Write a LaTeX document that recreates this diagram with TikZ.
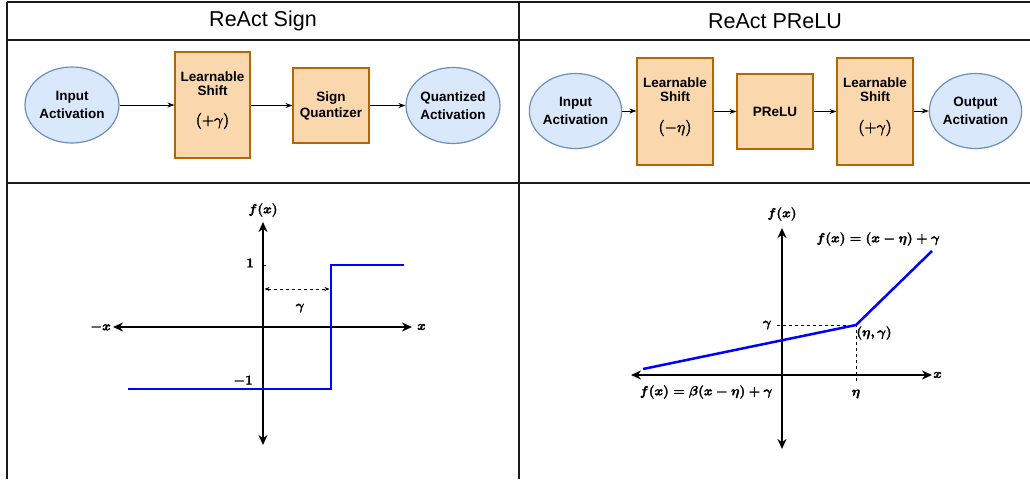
\documentclass[tikz,border=0pt]{standalone}
\usepackage{fix-cm}
\usepackage{amsmath}
\usepackage{bm}
\usepackage{fontspec}
\newfontfamily\arialf{Liberation Sans}
\usetikzlibrary{arrows.meta,shapes.geometric}
\definecolor{ellfill}{HTML}{DAE8FC}
\definecolor{elldraw}{HTML}{6C8EBF}
\definecolor{boxfill}{HTML}{FAD7AC}
\definecolor{boxdraw}{HTML}{B46504}
\definecolor{gridc}{HTML}{1A1A1A}
\definecolor{plotblue}{HTML}{0000FF}
\newcommand\heavyon[1]{\special{pdf:literal direct 2 Tr #1 w 0 G}}
\newcommand\heavyoff{\special{pdf:literal direct 0 Tr}}
\begin{document}
\begin{tikzpicture}[x=1pt,y=-1pt,
  gridline/.style={line width=1.8pt, draw=gridc},
  header/.style={font=\arialf\fontsize{21.5}{24}\selectfont},
  ell/.style={ellipse, draw=elldraw, fill=ellfill, line width=1.2pt, inner sep=0pt,
    align=center, font=\arialf\bfseries\fontsize{13.5}{18}\selectfont},
  boxnode/.style={draw=boxdraw, fill=boxfill, line width=1.2pt, inner sep=0pt, align=center,
    font=\arialf\bfseries\fontsize{13.5}{16}\selectfont},
  btext/.style={align=center, inner sep=0pt, font=\arialf\bfseries\fontsize{13.5}{14}\selectfont},
  bmath/.style={inner sep=0pt, font=\fontsize{16}{18}\selectfont,
    execute at begin node={\heavyon{0.35}}, execute at end node={\heavyoff}},
  flow/.style={-{Stealth[length=7pt,width=5pt]}, line width=0.8pt},
  axis/.style={{Stealth[length=10pt,width=9pt]}-{Stealth[length=10pt,width=9pt]}, line width=2pt},
  curve/.style={draw=plotblue, line width=2.5pt},
  mlabel/.style={inner sep=0pt, font=\fontsize{13.2}{15}\selectfont\boldmath,
    execute at begin node={\heavyon{0.3}}, execute at end node={\heavyoff}},
  guide/.style={dashed, line width=0.7pt}
]
\useasboundingbox (0,0) rectangle (1030,479);
% ---- table grid ----
\draw[gridline] (7,2) -- (1030,2);
\draw[gridline] (7,40) -- (1030,40);
\draw[gridline] (7,183) -- (1030,183);
\draw[gridline] (7,2) -- (7,479);
\draw[gridline] (519,2) -- (519,479);
\node[header] (h1) at (263,21) {ReAct Sign};
\node[header] (h2) at (775,21) {ReAct PReLU};

% ---- ReAct Sign flow ----
\node[ell, minimum width=94pt, minimum height=76pt] (in1) at (72,105) {Input\\Activation};
\node[boxnode, minimum width=75pt, minimum height=106pt] (ls1) at (212.5,105) {};
\node[btext] (ls1t) at (212.5,83.5) {Learnable\\Shift};
\node[bmath] (ls1m) at (212.5,121) {$(+\gamma)$};
\node[boxnode, minimum width=76pt, minimum height=75pt] (sq) at (331,105.5) {Sign\\Quantizer};
\node[ell, minimum width=94pt, minimum height=76pt] (qa) at (453,105.5) {Quantized\\Activation};
\draw[flow] (in1.east) -- (in1.east -| ls1.west);
\draw[flow] (ls1.east |- sq.west) -- (sq.west);
\draw[flow] (sq.east) -- (qa.west);

% ---- ReAct PReLU flow ----
\node[ell, minimum width=75pt, minimum height=75pt] (in2) at (575.5,111) {Input\\Activation};
\node[boxnode, minimum width=76pt, minimum height=107pt] (ls2) at (675,111.5) {};
\node[btext] (ls2t) at (675,90) {Learnable\\Shift};
\node[bmath] (ls2m) at (675,128) {$(-\eta)$};
\node[boxnode, minimum width=76pt, minimum height=75pt] (pr) at (775,111.5) {PReLU};
\node[boxnode, minimum width=76pt, minimum height=107pt] (ls3) at (875,111.5) {};
\node[btext] (ls3t) at (875,90) {Learnable\\Shift};
\node[bmath] (ls3m) at (875,128) {$(+\gamma)$};
\node[ell, minimum width=75pt, minimum height=75pt] (out2) at (975.5,111) {Output\\Activation};
\draw[flow] (in2.east) -- (in2.east -| ls2.west);
\draw[flow] (ls2.east |- pr.west) -- (pr.west);
\draw[flow] (pr.east) -- (pr.east -| ls3.west);
\draw[flow] (ls3.east |- out2.east) -- (out2.west);

% ---- Sign plot ----
\coordinate (Lxl) at (113,327);
\coordinate (Lxr) at (412,327);
\coordinate (Lyt) at (263,222);
\coordinate (Lyb) at (263,445);
\draw[axis] (Lxl) -- (Lxr);
\draw[axis] (Lyt) -- (Lyb);
\node[mlabel, anchor=east] (Lmx) at (111,327) {$-x$};
\node[mlabel, anchor=west] (Lpx) at (417,327) {$x$};
\node[mlabel] (Lfx) at (263,210) {$f(x)$};
\node[mlabel] (Lone) at (250,263) {$1$};
\node[mlabel] (Lmone) at (243,381) {$-1$};
\draw[line width=1pt] (263,265) -- (266,265);
\coordinate (Lp1) at (128,389);
\coordinate (Lp2) at (331,389);
\coordinate (Lp3) at (331,265);
\coordinate (Lp4) at (404,265);
\draw[curve] (Lp1) -- (Lp2) -- (Lp3) -- (Lp4);
\coordinate (Lg1) at (264.5,289);
\coordinate (Lg2) at (329.5,289);
\draw[guide, {Stealth[length=5pt,width=4pt]}-{Stealth[length=5pt,width=4pt]}] (Lg1) -- (Lg2);
\node[mlabel] (Lgam) at (300,308) {$\gamma$};

% ---- PReLU plot ----
\coordinate (Rxl) at (631,375);
\coordinate (Rxr) at (932,375);
\coordinate (Ryt) at (782,228);
\coordinate (Ryb) at (782,449);
\draw[axis] (Rxl) -- (Rxr);
\draw[axis] (Ryt) -- (Ryb);
\node[mlabel, anchor=west] (Rpx) at (933,375) {$x$};
\node[mlabel] (Rfx) at (782,214) {$f(x)$};
\coordinate (Rk) at (856,325);
\coordinate (Rgy) at (777,325);
\coordinate (Reta) at (856,382);
\draw[guide] (Rgy) -- (Rk) -- (Reta);
\coordinate (Rp1) at (643,369);
\coordinate (Rp3) at (932,251);
\draw[curve, line join=round] (Rp1) -- (Rk) -- (Rp3);
\node[mlabel] (Rgam) at (767,325) {$\gamma$};
\node[mlabel] (Retg) at (874,333) {$(\eta,\gamma)$};
\node[mlabel] (Retl) at (856,394) {$\eta$};
\node[mlabel] (Rf1) at (878,239) {$f(x)=(x-\eta)+\gamma$};
\node[mlabel] (Rf2) at (706,392) {$f(x)=\beta(x-\eta)+\gamma$};
\end{tikzpicture}
\end{document}
